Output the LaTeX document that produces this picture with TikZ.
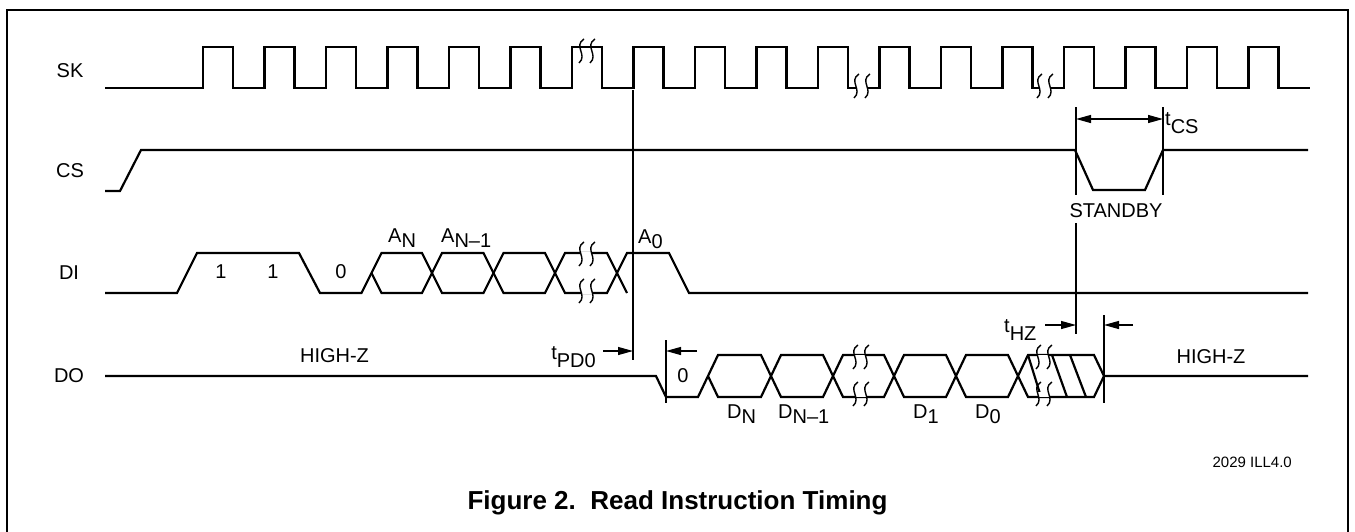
\documentclass[tikz,border=0pt]{standalone}
\usepackage{fontspec}
\setmainfont{Liberation Sans}
\usetikzlibrary{arrows.meta}
\newcommand\lowsub[2]{#1\raisebox{-5pt}{#2}}
\newcommand\tlab[1]{\raisebox{8pt}{t}#1}
\begin{document}
\begin{tikzpicture}[x=1pt,y=-1pt,
  sig/.style={line width=2.2pt},
  refline/.style={line width=1.2pt},
  arr/.style={line width=1.2pt,-{Triangle[length=15pt,width=8pt]}},
  darr/.style={line width=1.2pt,{Triangle[length=15pt,width=8pt]}-{Triangle[length=15pt,width=8pt]}},
  lbl/.style={inner sep=0pt,font=\fontsize{20}{23}\selectfont},
  brk/.pic={
    \fill[white] (-5.5,-2.5) rectangle (5.5,2.5);
    \draw[line width=1.4pt] (-2,-12) .. controls (-13,-5) and (2,4) .. (-7,12);
    \draw[line width=1.4pt] (9,-12) .. controls (-2,-5) and (13,4) .. (4,12);
  }]
\useasboundingbox (0,0) rectangle (1355,531);
% frame
\draw[line width=2pt] (6.5,532) -- (6.5,10) -- (1348,10) -- (1348,532);

% signal names
\node[lbl,anchor=base] (nSK) at (70,77) {SK};
\node[lbl,anchor=base] (nCS) at (70,177) {CS};
\node[lbl,anchor=base] (nDI) at (69,279) {DI};
\node[lbl,anchor=base] (nDO) at (69,382) {DO};

% SK clock
\draw[sig] (105,88) -- (203,88)
  \foreach \k in {0,...,17} {
    -- ({203+61.5*\k},47) -- ({233+61.5*\k},47) -- ({233+61.5*\k},88) -- ({264.5+61.5*\k},88)
  };
\pic at (586,51) {brk};
\pic at (861,86) {brk};
\pic at (1044,86) {brk};

% CS
\draw[sig] (105,191) -- (120,191) -- (141,150) -- (1075,150) -- (1093,190) -- (1145,190) -- (1163,150) -- (1308,150);

% DI
\draw[sig] (105,293) -- (177,293) -- (197,253) -- (299,253) -- (320,293) -- (361.5,293) -- (381.5,253) -- (422,253) -- (442,293) -- (483.5,293) -- (503.5,253) -- (545,253) -- (565,293) -- (607,293) -- (627,253) -- (669,253) -- (689,293) -- (1308,293);
\draw[sig] (371.5,273) -- (381.5,293) -- (422,293) -- (442,253) -- (483.5,253) -- (503.5,293) -- (545,293) -- (565,253) -- (607,253) -- (627,293);
\pic at (586,254) {brk};
\pic at (586,291) {brk};

% DO
\draw[sig] (105,376) -- (656,376) -- (666,397) -- (698,397) -- (718,355) -- (761,355) -- (781,397) -- (823,397) -- (843,355) -- (884,355) -- (904,397) -- (946,397) -- (966,355) -- (1008,355) -- (1028,397) -- (1094,397) -- (1104,376) -- (1308,376);
\draw[sig] (708,376) -- (718,397) -- (761,397) -- (781,355) -- (823,355) -- (843,397) -- (884,397) -- (904,355) -- (946,355) -- (966,397) -- (1008,397) -- (1028,355) -- (1094,355) -- (1104,376);
\draw[sig] (1028,355) -- (1041,397);
\draw[sig] (1052,355) -- (1067,397);
\draw[sig] (1070,355) -- (1086,397);
\pic at (860,357) {brk};
\pic at (860,394) {brk};
\pic at (1043,357) {brk};
\pic at (1043,394) {brk};

% reference lines
\coordinate (v1t) at (633,90);
\coordinate (v1b) at (633,360);
\draw[refline] (v1t) -- (v1b);
\coordinate (v2t) at (1076,107);
\coordinate (v2m) at (1076,195);
\coordinate (v2n) at (1076,223);
\coordinate (v2b) at (1076,334);
\draw[refline] (v2t) -- (v2m);
\draw[refline] (v2n) -- (v2b);
\coordinate (v3t) at (1163,107);
\coordinate (v3b) at (1163,195);
\draw[refline] (v3t) -- (v3b);
\coordinate (v4t) at (666,340);
\coordinate (v4b) at (666,403);
\draw[refline] (v4t) -- (v4b);
\coordinate (v5t) at (1104,315);
\coordinate (v5b) at (1104,403);
\draw[refline] (v5t) -- (v5b);

% timing arrows
\coordinate (cs1) at (1076,119);
\coordinate (cs2) at (1163,119);
\draw[darr] (cs1) -- (cs2);
\coordinate (pd1) at (603,351);
\coordinate (pd2) at (633,351);
\draw[arr] (pd1) -- (pd2);
\coordinate (pd3) at (697,351);
\coordinate (pd4) at (666,351);
\draw[arr] (pd3) -- (pd4);
\coordinate (hz1) at (1045,325);
\coordinate (hz2) at (1076,325);
\draw[arr] (hz1) -- (hz2);
\coordinate (hz3) at (1133,325);
\coordinate (hz4) at (1104,325);
\draw[arr] (hz3) -- (hz4);

% labels
\node[lbl,anchor=base west] (tcs) at (1165,133) {\tlab{CS}};
\node[lbl,anchor=base] (stby) at (1116,217) {STANDBY};
\node[lbl,anchor=base] (one1) at (221,278) {1};
\node[lbl,anchor=base] (one2) at (273,278) {1};
\node[lbl,anchor=base] (zero1) at (341,278) {0};
\node[lbl,anchor=base west] (an) at (388,242) {\lowsub{A}{N}};
\node[lbl,anchor=base west] (an1) at (441,242) {\lowsub{A}{N–1}};
\node[lbl,anchor=base west] (a0) at (638,243) {\lowsub{A}{0}};
\node[lbl,anchor=base] (hz) at (334.5,362) {HIGH-Z};
\node[lbl,anchor=base] (hzr) at (1211,363) {HIGH-Z};
\node[lbl,anchor=base east] (tpd) at (596,367) {\tlab{PD0}};
\node[lbl,anchor=base] (zero2) at (683,382) {0};
\node[lbl,anchor=base west] (thz) at (1004,340) {\tlab{HZ}};
\node[lbl,anchor=base west] (dn) at (727,418) {\lowsub{D}{N}};
\node[lbl,anchor=base west] (dn1) at (778,418) {\lowsub{D}{N–1}};
\node[lbl,anchor=base west] (d1) at (913,418) {\lowsub{D}{1}};
\node[lbl,anchor=base west] (d0) at (975,418) {\lowsub{D}{0}};
\node[inner sep=0pt,anchor=base east,font=\fontsize{15}{18}\selectfont] (ill) at (1292,467) {2029 ILL4.0};
\node[inner sep=0pt,anchor=base,font=\bfseries\fontsize{26}{30}\selectfont] (title) at (677.5,509) {Figure 2.\ \ Read Instruction Timing};
\end{tikzpicture}
\end{document}
